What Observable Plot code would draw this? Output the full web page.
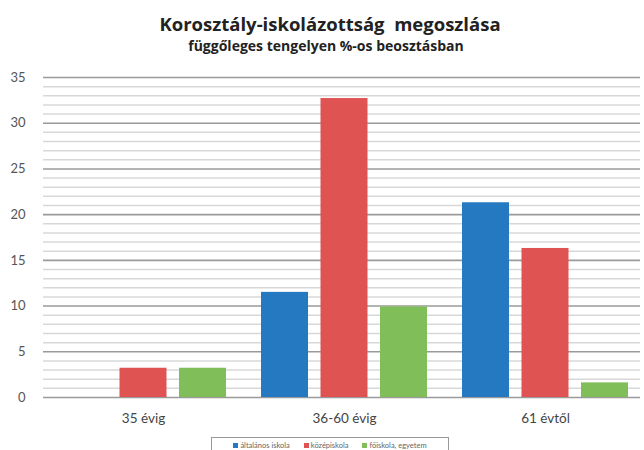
<!DOCTYPE html>
<html>
<head>
<meta charset="utf-8">
<script src="https://cdn.jsdelivr.net/npm/d3@7"></script>
<script src="https://cdn.jsdelivr.net/npm/@observablehq/plot@0.6"></script>
<style>
  body { margin: 0; background: #fff; font-family: Lato, "Open Sans", sans-serif; }
  #wrap { position: relative; width: 644px; height: 450px; overflow: hidden; }
  #title { position: absolute; top: 13px; left: 0; width: 660px; text-align: center; font-family: "Open Sans", sans-serif; font-weight: bold; font-size: 18.5px; line-height: 22px; color: #222; }
  #subtitle { position: absolute; top: 37px; left: 0; width: 652px; text-align: center; font-family: "Open Sans", sans-serif; font-weight: bold; font-size: 14px; line-height: 18px; color: #222; }
  #legend { position: absolute; top: 437px; left: 211px; width: 238px; height: 16px; border: 1px solid #999; box-sizing: border-box; font-size: 7.5px; color: #666; display: flex; justify-content: center; align-items: center; gap: 14px; }
  #legend span.sw { display: inline-block; width: 5px; height: 5px; margin-right: 2px; }
  #chart { position: absolute; top: 0; left: 0; }
</style>
</head>
<body>
<div id="wrap">
  <div id="chart"></div>
  <div id="title">Korosztály-iskolázottság&nbsp; megoszlása</div>
  <div id="subtitle">függőleges tengelyen %-os beosztásban</div>
  <div id="legend"></div>
</div>
<script>
const categories = ["35 évig", "36-60 évig", "61 évtől"];
const seriesNames = ["általános iskola", "középiskola", "főiskola, egyetem"];
const altalanos = [0, 11.5, 21.3];
const kozep = [3.2, 32.7, 16.3];
const foiskola = [3.2, 9.9, 1.6];
const colors = ["#2479c1", "#e05353", "#80be5a"];
const yTicks = [0, 5, 10, 15, 20, 25, 30, 35];
const minorTicks = d3.range(0, 36, 1).filter(v => v % 5 !== 0);

const seriesValues = [altalanos, kozep, foiskola];
const offsets = [-59.5, 0, 59.5];
const inset = 59.5;

const marks = [
  Plot.ruleY(minorTicks, {stroke: "#d8d8d8", strokeWidth: 1.5}),
  Plot.ruleY(yTicks, {stroke: "#9a9a9a", strokeWidth: 1.6}),
];
seriesValues.forEach((vals, i) => {
  const rows = categories.map((c, j) => ({cat: c, value: vals[j]}));
  marks.push(Plot.barY(rows, {x: "cat", y: "value", fill: colors[i], dx: offsets[i], insetLeft: inset, insetRight: inset}));
});
marks.push(Plot.axisY({ticks: yTicks, tickSize: 0, tickPadding: 18, fontSize: 13, color: "#555", label: null}));
marks.push(Plot.axisX({tickSize: 0, tickPadding: 16, fontSize: 13.5, color: "#444", label: null}));

const chart = Plot.plot({
  width: 644,
  height: 450,
  marginLeft: 43,
  marginRight: 4,
  marginTop: 77,
  marginBottom: 53,
  style: {fontFamily: "Lato, 'Open Sans', sans-serif", background: "transparent"},
  x: {domain: categories, range: [43, 646], paddingInner: 0.174, paddingOuter: 0.087, axis: null},
  y: {domain: [0, 35], axis: null},
  marks
});
document.getElementById("chart").appendChild(chart);

const legend = document.getElementById("legend");
seriesNames.forEach((n, i) => {
  const item = document.createElement("div");
  item.innerHTML = `<span class="sw" style="background:${colors[i]}"></span>${n}`;
  legend.appendChild(item);
});
</script>
</body>
</html>
